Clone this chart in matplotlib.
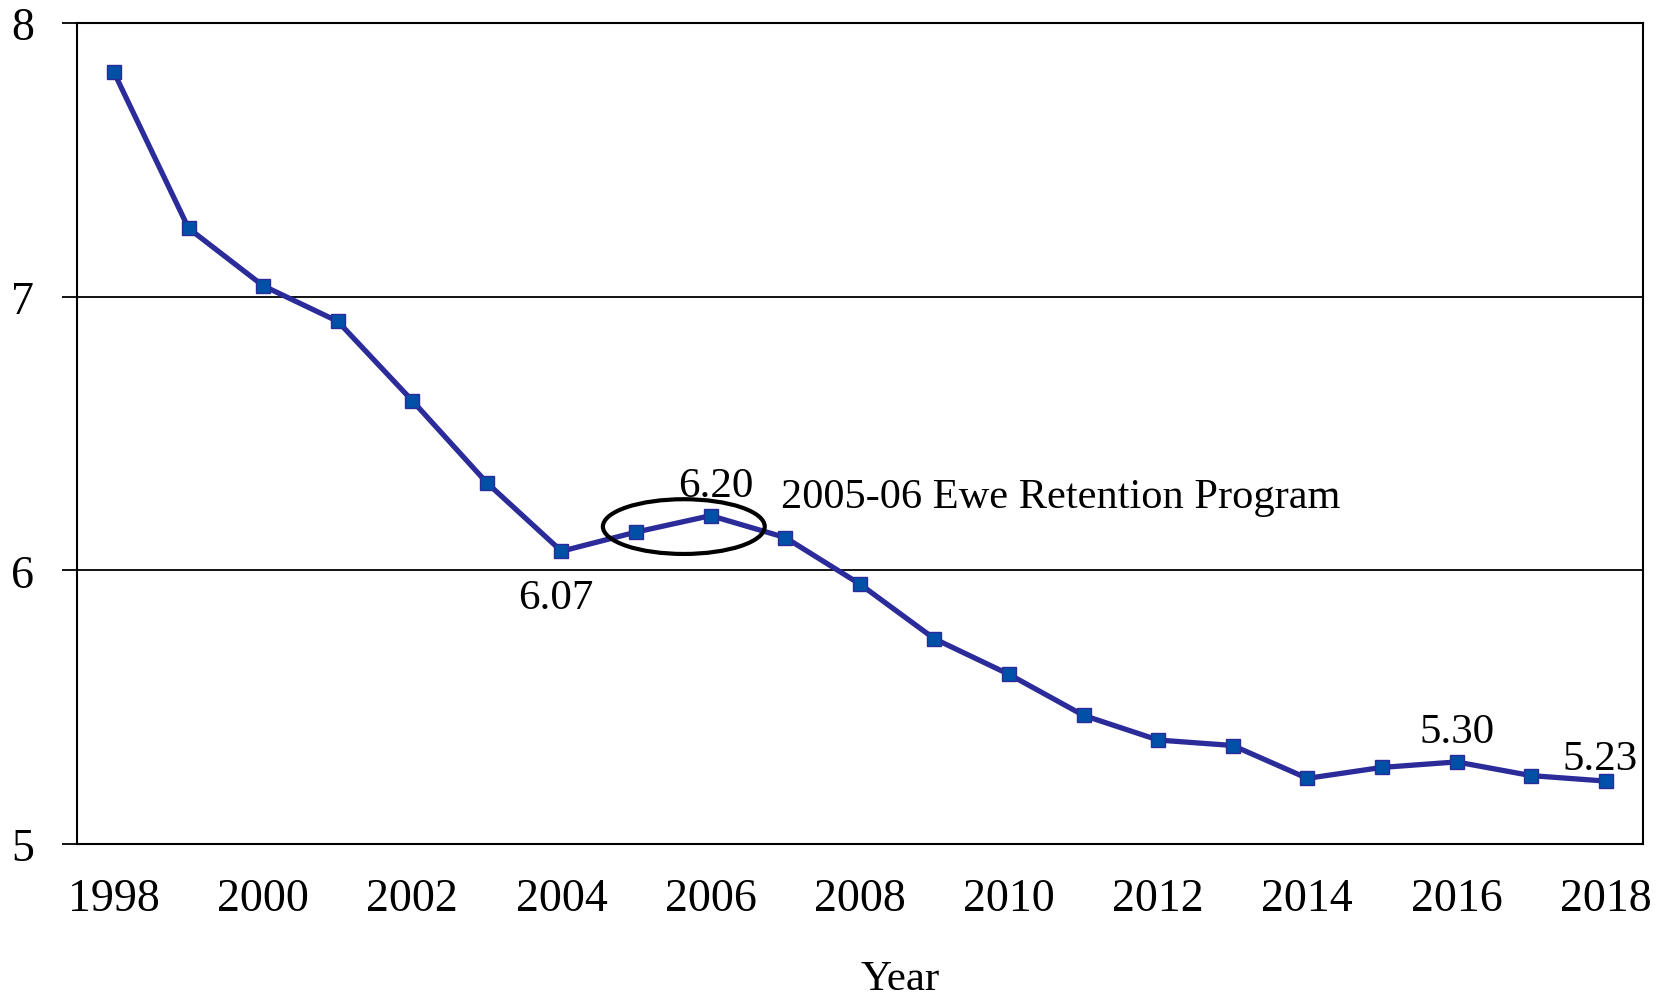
import matplotlib.pyplot as plt
from matplotlib.patches import Ellipse

years = list(range(1998, 2019))
values = [7.82, 7.25, 7.04, 6.91, 6.62, 6.32, 6.07, 6.14, 6.20, 6.12, 5.95,
          5.75, 5.62, 5.47, 5.38, 5.36, 5.24, 5.28, 5.30, 5.25, 5.23]
x_ticks = list(range(1998, 2019, 2))
y_ticks = [5, 6, 7, 8]

# labelled points: (year, value, text)
labels = [(2004, 6.07, "6.07"), (2006, 6.20, "6.20"),
          (2016, 5.30, "5.30"), (2018, 5.23, "5.23")]

plt.rcParams["font.family"] = ["Liberation Serif", "DejaVu Serif"]

fig = plt.figure(figsize=(16.67, 10.03), dpi=100)
ax = fig.add_axes([0.046, 0.1575, 0.9396, 0.8185])

ax.plot(years, values, color="#2B2B9A", lw=3.8, marker="s", ms=10,
        mfc="#0050A8", mec="#2B2B9A", mew=1, zorder=3)

ax.set_xlim(1997.5, 2018.5)
ax.set_ylim(5, 8)
ax.set_xticks(x_ticks)
ax.set_yticks(y_ticks)
ax.yaxis.grid(True, color="black", lw=1.3)
ax.tick_params(axis="x", length=0, pad=24, labelsize=33)
ax.tick_params(axis="y", length=11, width=1.3, pad=20, labelsize=33)
for s in ax.spines.values():
    s.set_linewidth(1.5)

offsets = {"6.07": (-0.08, -0.17), "6.20": (0.07, 0.11),
           "5.30": (0.0, 0.11), "5.23": (-0.07, 0.08)}
for yr, v, t in labels:
    dx, dy = offsets[t]
    ax.text(yr + dx, v + dy, t, ha="center", va="center", fontsize=31)

ax.text(2006.94, 6.27, "2005-06 Ewe Retention Program", ha="left",
        va="center", fontsize=30.5)

ax.add_patch(Ellipse((2005.64, 6.16), 2.17, 0.20, fill=False,
                     ec="black", lw=3, zorder=4))

fig.text(0.54, 0.004, "Year", ha="center", va="bottom", fontsize=31)

fig.savefig("out.png", dpi=100)
